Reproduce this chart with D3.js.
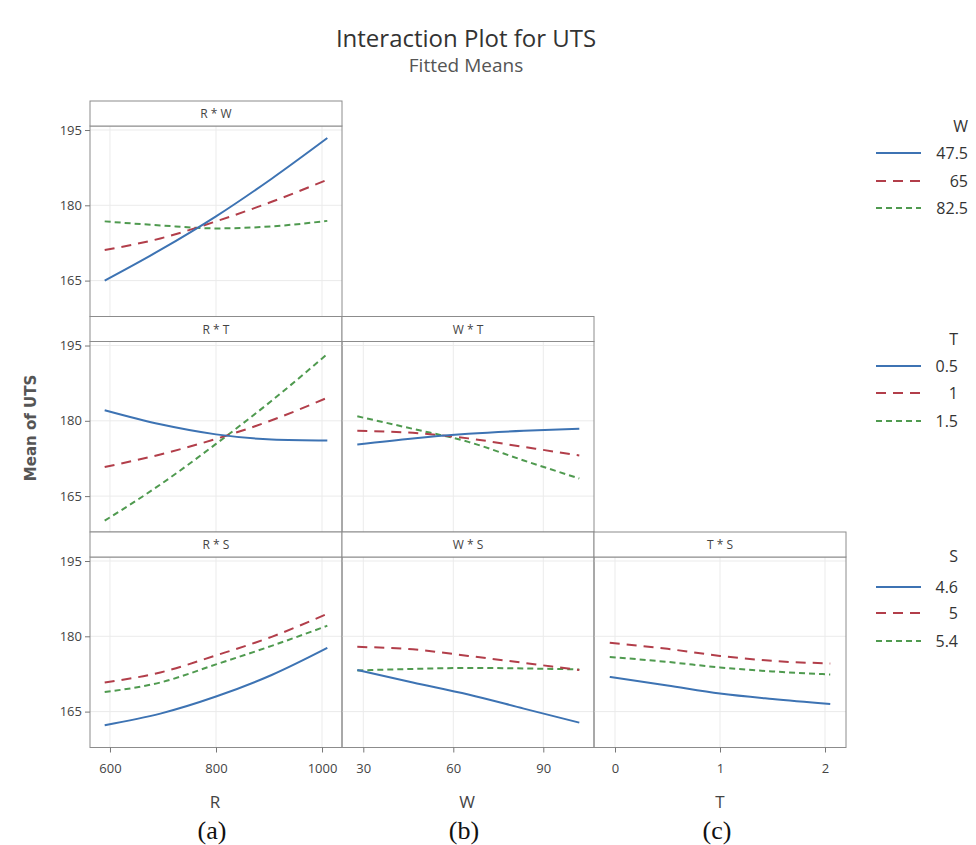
<!DOCTYPE html>
<html>
<head>
<meta charset="utf-8">
<script src="https://cdn.jsdelivr.net/npm/d3@7"></script>
<style>
  body { margin: 0; background: #fff; }
  svg text { font-family: "Open Sans", "Noto Sans", sans-serif; }
</style>
</head>
<body>
<svg id="chart" width="976" height="845"></svg>
<script>
// Factor settings at which the fitted means are evaluated
const R_points = [590, 695, 800, 905, 1010];
const W_points = [28, 46.5, 65, 83.5, 102];
const T_points = [-0.05, 0.5, 1, 1.5, 2.05];

// Hold levels for the interacting factor
const W_levels = ["47.5", "65", "82.5"];
const T_levels = ["0.5", "1", "1.5"];
const S_levels = ["4.6", "5", "5.4"];

// Fitted means of UTS, R * W
const RW_w475 = [165.0, 171.1, 177.8, 185.3, 193.4];
const RW_w65  = [171.1, 173.4, 176.8, 180.7, 185.1];
const RW_w825 = [176.8, 176.0, 175.4, 175.8, 176.9];
// R * T
const RT_t05 = [182.1, 179.3, 177.3, 176.3, 176.1];
const RT_t1  = [170.8, 173.3, 176.4, 180.1, 184.6];
const RT_t15 = [160.1, 167.3, 175.4, 184.0, 193.3];
// W * T
const WT_t05 = [175.3, 176.5, 177.4, 178.0, 178.4];
const WT_t1  = [178.0, 177.6, 176.5, 174.8, 173.1];
const WT_t15 = [180.9, 178.4, 175.8, 172.1, 168.5];
// R * S
const RS_s46 = [162.3, 164.6, 168.0, 172.3, 177.7];
const RS_s5  = [170.8, 172.8, 176.2, 179.9, 184.5];
const RS_s54 = [168.9, 170.8, 174.4, 178.1, 182.1];
// W * S
const WS_s46 = [173.3, 170.8, 168.4, 165.6, 162.8];
const WS_s5  = [177.9, 177.4, 176.1, 174.7, 173.3];
const WS_s54 = [173.2, 173.5, 173.7, 173.6, 173.4];
// T * S
const TS_s46 = [171.9, 170.2, 168.6, 167.5, 166.5];
const TS_s5  = [178.7, 177.5, 176.1, 175.1, 174.6];
const TS_s54 = [175.9, 174.9, 173.8, 173.0, 172.4];

// Tick labels
const yTicks = [165, 180, 195];
const R_ticks = [600, 800, 1000];
const W_ticks = [30, 60, 90];
const T_ticks = [0, 1, 2];

const svg = d3.select("#chart");
svg.append("rect").attr("width", 976).attr("height", 845).attr("fill", "#fff");

// Grid geometry
const colLeft = [90, 342, 594], colW = 252;
const rowTop = [101, 316.5, 532], stripH = 25, plotH = 190.5;

const colDomain = [[562.3, 1037.7], [22.9, 106.9], [-0.2, 2.2]];
const colTicks = [R_ticks, W_ticks, T_ticks];
const colName = ["R", "W", "T"];
const colTitleX = [215, 467, 720];
const tagName = ["(a)", "(b)", "(c)"];

const styles = [
  { color: "#3d73b3", dash: null, width: 2 },
  { color: "#b23e4a", dash: "10,7", width: 2 },
  { color: "#4f9a4f", dash: "6,4", width: 2 }
];

const panels = [
  { row: 0, col: 0, label: "R * W", xs: R_points, series: [RW_w475, RW_w65, RW_w825] },
  { row: 1, col: 0, label: "R * T", xs: R_points, series: [RT_t05, RT_t1, RT_t15] },
  { row: 1, col: 1, label: "W * T", xs: W_points, series: [WT_t05, WT_t1, WT_t15] },
  { row: 2, col: 0, label: "R * S", xs: R_points, series: [RS_s46, RS_s5, RS_s54] },
  { row: 2, col: 1, label: "W * S", xs: W_points, series: [WS_s46, WS_s5, WS_s54] },
  { row: 2, col: 2, label: "T * S", xs: T_points, series: [TS_s46, TS_s5, TS_s54] }
];

const xScales = colDomain.map((d, i) =>
  d3.scaleLinear().domain(d).range([colLeft[i], colLeft[i] + colW]));
const yScales = rowTop.map(t =>
  d3.scaleLinear().domain([157.85, 195.8]).range([t + stripH + plotH, t + stripH]));

const border = "#8c8c8c";

panels.forEach(p => {
  const x = xScales[p.col], y = yScales[p.row];
  const x0 = colLeft[p.col], top = rowTop[p.row];
  const pTop = top + stripH, pBot = pTop + plotH;
  const g = svg.append("g");

  // gridlines
  g.selectAll(".gx").data(colTicks[p.col]).join("line")
    .attr("x1", d => x(d)).attr("x2", d => x(d))
    .attr("y1", pTop).attr("y2", pBot)
    .attr("stroke", "#ebebeb").attr("stroke-width", 1);
  g.selectAll(".gy").data(yTicks).join("line")
    .attr("x1", x0).attr("x2", x0 + colW)
    .attr("y1", d => y(d)).attr("y2", d => y(d))
    .attr("stroke", "#ebebeb").attr("stroke-width", 1);

  // fitted mean lines
  const line = d3.line().x((d, i) => x(p.xs[i])).y(d => y(d)).curve(d3.curveMonotoneX);
  [2, 1, 0].forEach(k => {
    g.append("path").datum(p.series[k])
      .attr("d", line).attr("fill", "none")
      .attr("stroke", styles[k].color).attr("stroke-width", styles[k].width)
      .attr("stroke-dasharray", styles[k].dash);
  });

  // frame and strip
  g.append("rect").attr("x", x0).attr("y", pTop).attr("width", colW).attr("height", plotH)
    .attr("fill", "none").attr("stroke", border);
  g.append("rect").attr("x", x0).attr("y", top).attr("width", colW).attr("height", stripH)
    .attr("fill", "#fff").attr("stroke", border);
  g.append("text").attr("x", x0 + colW / 2).attr("y", top + stripH / 2 + 4.5)
    .attr("text-anchor", "middle").attr("font-size", 12).attr("fill", "#444")
    .text(p.label);

  // y axis on the first column
  if (p.col === 0) {
    const ax = svg.append("g").attr("transform", `translate(${x0},0)`)
      .call(d3.axisLeft(y).tickValues(yTicks).tickSize(5).tickPadding(3));
    ax.select(".domain").remove();
    ax.selectAll("line").attr("stroke", "#777");
    ax.selectAll("text").attr("font-size", 13).attr("fill", "#444")
      .style("font-family", '"Open Sans", sans-serif');
  }
  // x axis on the bottom row
  if (p.row === 2) {
    const ax = svg.append("g").attr("transform", `translate(0,${pBot})`)
      .call(d3.axisBottom(x).tickValues(colTicks[p.col]).tickSize(5).tickPadding(11)
        .tickFormat(d3.format("d")));
    ax.select(".domain").remove();
    ax.selectAll("line").attr("stroke", "#777");
    ax.selectAll("text").attr("font-size", 13).attr("fill", "#444")
      .style("font-family", '"Open Sans", sans-serif');
  }
});

// axis titles and panel tags
colName.forEach((n, i) => {
  const cx = colTitleX[i];
  svg.append("text").attr("x", cx).attr("y", 808)
    .attr("text-anchor", "middle").attr("font-size", 17).attr("fill", "#444").text(n);
  svg.append("text").attr("x", cx - 3).attr("y", 839)
    .attr("text-anchor", "middle").attr("font-size", 26).attr("fill", "#111")
    .style("font-family", '"Liberation Serif", "Times New Roman", serif')
    .text(tagName[i]);
});

// y axis title
svg.append("text").attr("transform", "translate(36,428) rotate(-90)")
  .attr("text-anchor", "middle").attr("font-size", 15).attr("font-weight", 600)
  .attr("fill", "#555").style("font-family", '"DejaVu Sans", sans-serif')
  .text("Mean of UTS");

// titles
svg.append("text").attr("x", 466).attr("y", 47).attr("text-anchor", "middle")
  .attr("font-size", 24).attr("fill", "#333").text("Interaction Plot for UTS");
svg.append("text").attr("x", 466).attr("y", 72).attr("text-anchor", "middle")
  .attr("font-size", 19).attr("fill", "#555").text("Fitted Means");

// legends
const legends = [
  { title: "W", levels: W_levels, right: 968, titleY: 127, ys: [153, 181, 208] },
  { title: "T", levels: T_levels, right: 958, titleY: 340, ys: [366, 393, 421] },
  { title: "S", levels: S_levels, right: 958, titleY: 557, ys: [587, 613, 641] }
];
legends.forEach(L => {
  const g = svg.append("g");
  g.append("text").attr("x", L.right).attr("y", L.titleY + 5).attr("text-anchor", "end")
    .attr("font-size", 16).attr("fill", "#333").text(L.title);
  L.levels.forEach((lv, k) => {
    g.append("line").attr("x1", 876).attr("x2", 921)
      .attr("y1", L.ys[k]).attr("y2", L.ys[k])
      .attr("stroke", styles[k].color).attr("stroke-width", styles[k].width)
      .attr("stroke-dasharray", styles[k].dash);
    g.append("text").attr("x", L.right).attr("y", L.ys[k] + 5.5).attr("text-anchor", "end")
      .attr("font-size", 16).attr("fill", "#333").text(lv);
  });
});
</script>
</body>
</html>
